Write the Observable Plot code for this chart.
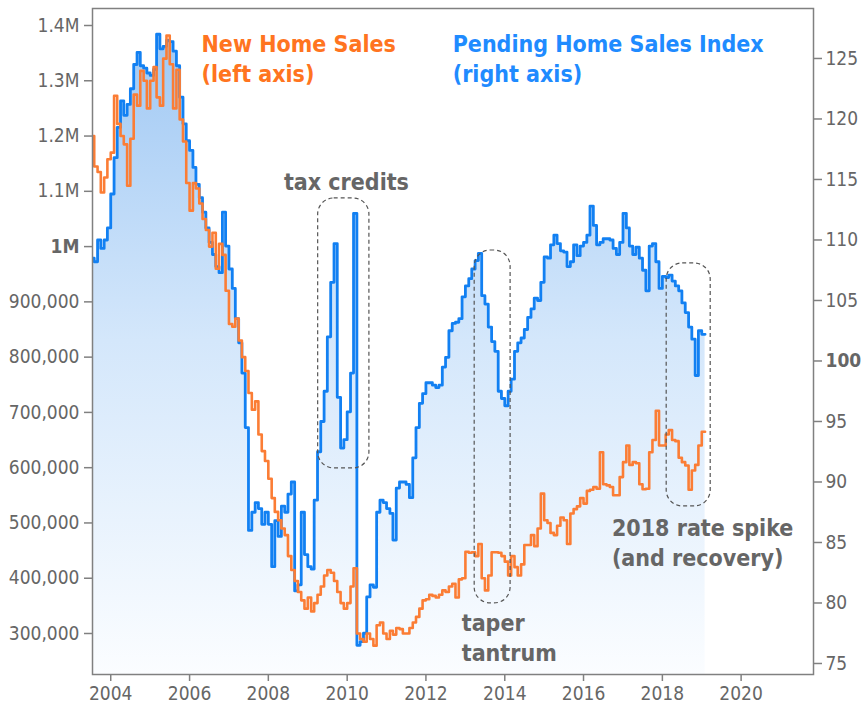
<!DOCTYPE html>
<html><head><meta charset="utf-8">
<script src="https://cdn.jsdelivr.net/npm/d3@7"></script>
<script src="https://cdn.jsdelivr.net/npm/@observablehq/plot@0.6"></script>
<style>
body{margin:0;background:#fff;}
#chart svg{display:block;}
</style></head><body><div id="chart"></div>
<script>
// ---- data (monthly, Jul 2003 – Feb 2019) ----
const firstMonth = "2003-07-01";
const newHomeSalesK = [1200,
 1200,1145,1135,1098,1125,1158,
 1170,1273,1222,1200,1185,1110,1195,1275,1255,1318,1300,1250,
 1300,1325,1270,1255,1340,1382,1330,1250,1320,1230,1190,1115,
 1065,1115,1105,1078,1050,1030,1000,1025,960,1005,985,920,
 860,855,870,830,800,775,735,705,720,660,630,612,
 580,545,520,505,490,478,440,415,395,375,360,345,
 365,340,355,370,385,405,415,410,395,375,355,345,
 355,385,418,300,290,285,300,290,278,315,320,300,
 290,305,298,310,308,300,300,310,320,330,345,360,
 362,370,368,365,370,378,375,385,390,365,398,400,
 448,446,447,440,462,400,378,405,447,447,446,440,
 430,405,440,420,405,425,460,460,478,458,490,553,
 505,500,482,478,495,510,505,462,517,525,530,545,
 535,558,560,565,562,628,570,568,565,550,550,583,
 610,640,605,610,608,570,561,562,628,650,703,640,
 640,660,668,650,648,618,610,604,560,595,605,640,
 665];
const pendingIndex = [109.4,
 108.5,108.2,110,109.3,110,111,
 113.8,116.8,119.3,121.5,120.3,121.2,122.5,124.5,125.5,124.4,124.2,123.8,
 123.6,124.1,127,125.8,126,126.5,126.4,125.6,124.4,121.8,119.6,118.2,
 117.4,116,114.6,113.5,112.3,111,109.8,108.8,107.8,107.3,112.3,109.5,
 107.6,106,103.5,101.5,99,94.5,86,87.5,88.3,87.8,86.5,87.5,
 86.5,83,86.8,85.5,88,87.5,89,90,81,81.5,87.5,84,
 83,82.8,88.5,92.5,95,97.5,102,106.5,109.7,97,92.8,93.5,
 95.8,99,112.2,76.5,76.8,77.5,80.5,81.5,81.3,87.5,88.5,88.3,
 87.8,87.4,85.2,89.5,90,90,89.8,88.7,92,94.5,96.5,97.3,
 98.2,98.2,98,97.8,98,99.5,100.3,102.5,103.1,103.2,103.5,105.3,
 106.2,106.8,107.6,108.3,108.9,105.4,104.7,102.8,101.6,100.8,97.5,96.9,
 96.3,97.5,98.5,100.8,101.5,101.9,102.6,103.6,104.3,105.2,105,106.5,
 108.6,108.5,109.6,110.4,109.7,109.1,109,107.8,108.2,109.6,108.7,109.5,
 109.8,110.4,112.8,111.2,109.6,109.8,110.1,110.1,110,109.3,108.8,109.8,
 112.2,111,109.5,108.8,109.4,108.5,107.5,105.8,109.5,109.7,108.2,106,
 107,106.9,107.1,106.6,106.2,105.8,104.8,104,102.8,101.8,98.8,102.5,
 102.2];
const leftTicks = [300000,400000,500000,600000,700000,800000,900000,1000000,1100000,1200000,1300000,1400000];
const rightTicks = [75,80,85,90,95,100,105,110,115,120,125];
const xTickYears = [2004,2006,2008,2010,2012,2014,2016,2018,2020];
const leftDomain = [225820, 1430760];
const rightDomain = [74.09, 129.13];
const xDomain = ["2003-07-16", "2021-11-02"];
const titles = [
  {label: "New Home Sales\n(left axis)", date: "2006-04-22", v: 1391000, color: "#ff7420"},
  {label: "Pending Home Sales Index\n(right axis)", date: "2012-09-05", v: 1391000, color: "#1f8bff"}
];
const notes = [
  {label: "tax credits", date: "2009-12-25", v: 1119000, anchor: "middle", line: "middle"},
  {label: "taper\ntantrum", date: "2012-11-28", v: 341500, anchor: "start", line: "top"},
  {label: "2018 rate spike\n(and recovery)", date: "2016-09-20", v: 513500, anchor: "start", line: "top"}
];
// boxes in right-axis (index) units
const boxes = [
  {from: "2009-04-07", to: "2010-07-26", lo: 91.12, hi: 113.43},
  {from: "2013-03-28", to: "2014-02-24", lo: 79.96, hi: 109.13},
  {from: "2018-02-10", to: "2019-03-25", lo: 87.98, hi: 108.06}
];

// ---- build ----
const months = d3.utcMonth.range(new Date(firstMonth), d3.utcMonth.offset(new Date(firstMonth), newHomeSalesK.length));
const rows = months.map((date, i) => ({date, nhs: newHomeSalesK[i] * 1000, phsi: pendingIndex[i]}));
const toLeft = d3.scaleLinear().domain(rightDomain).range(leftDomain);
const FONT = '"DejaVu Sans Condensed", "DejaVu Sans", sans-serif';
const fmtLeft = d => d >= 1000000 ? (d / 1e6) + "M" : d3.format(",")(d);
const fmtRight = d => String(Math.round(toLeft.invert(d)));
const axisStyle = {fontSize: 19, fill: "#666", stroke: "#808080", strokeWidth: 1.5, label: null};

const chart = Plot.plot({
  width: 864, height: 710,
  marginLeft: 92, marginRight: 51, marginTop: 8, marginBottom: 36,
  style: {fontFamily: FONT, background: "#fff", overflow: "visible"},
  x: {type: "utc", domain: xDomain.map(d => new Date(d))},
  y: {domain: leftDomain},
  marks: [
    Plot.areaY(rows, {x: "date", y1: leftDomain[0], y2: d => toLeft(d.phsi), curve: "step-before", fill: "url(#phsiFade)", clip: true}),
    Plot.line(rows, {x: "date", y: d => toLeft(d.phsi), curve: "step-before", stroke: "#1280f2", strokeWidth: 2.8, clip: true}),
    Plot.line(rows, {x: "date", y: "nhs", curve: "step-before", stroke: "#fb7d35", strokeWidth: 2.6, clip: true}),
    Plot.rect(boxes, {x1: d => new Date(d.from), x2: d => new Date(d.to), y1: d => toLeft(d.lo), y2: d => toLeft(d.hi), rx: 16, fill: "none", stroke: "#555", strokeWidth: 1.2, strokeDasharray: "4,3"}),
    Plot.frame({stroke: "#808080", strokeWidth: 1.5}),
    Plot.axisY({ticks: leftTicks.filter(d => d !== 1000000), anchor: "left", tickSize: 8, tickPadding: 5, tickFormat: fmtLeft, ...axisStyle}),
    Plot.axisY({ticks: [1000000], anchor: "left", tickSize: 8, tickPadding: 5, tickFormat: fmtLeft, fontWeight: "bold", ...axisStyle}),
    Plot.axisY({ticks: rightTicks.filter(d => d !== 100).map(toLeft), anchor: "right", tickSize: 8, tickPadding: 4, tickFormat: fmtRight, ...axisStyle}),
    Plot.axisY({ticks: [toLeft(100)], anchor: "right", tickSize: 8, tickPadding: 4, tickFormat: fmtRight, fontWeight: "bold", ...axisStyle}),
    Plot.axisX({ticks: xTickYears.map(y => new Date(Date.UTC(y, 0, 1))), tickFormat: d3.utcFormat("%Y"), tickSize: 7, tickPadding: 5, ...axisStyle}),
    ...titles.map(t => Plot.text([t], {x: d => new Date(d.date), y: "v", text: "label", fill: t.color, fontSize: 23, fontWeight: "bold", textAnchor: "start", lineAnchor: "top", lineHeight: 1.3})),
    ...notes.map(n => Plot.text([n], {x: d => new Date(d.date), y: "v", text: "label", fill: "#666", fontSize: 23, fontWeight: "bold", textAnchor: n.anchor, lineAnchor: n.line, lineHeight: 1.28}))
  ]
});

const ys = chart.scale("y");
d3.select(chart).insert("defs", ":first-child").html(
  `<linearGradient id="phsiFade" gradientUnits="userSpaceOnUse" x1="0" y1="${ys.apply(leftDomain[1])}" x2="0" y2="${ys.apply(leftDomain[0])}">
     <stop offset="0" stop-color="#9cc6f3"/>
     <stop offset="0.5" stop-color="#d4e7fb"/>
     <stop offset="1" stop-color="#fbfdff"/>
   </linearGradient>`);
document.getElementById("chart").appendChild(chart);
</script></body></html>
